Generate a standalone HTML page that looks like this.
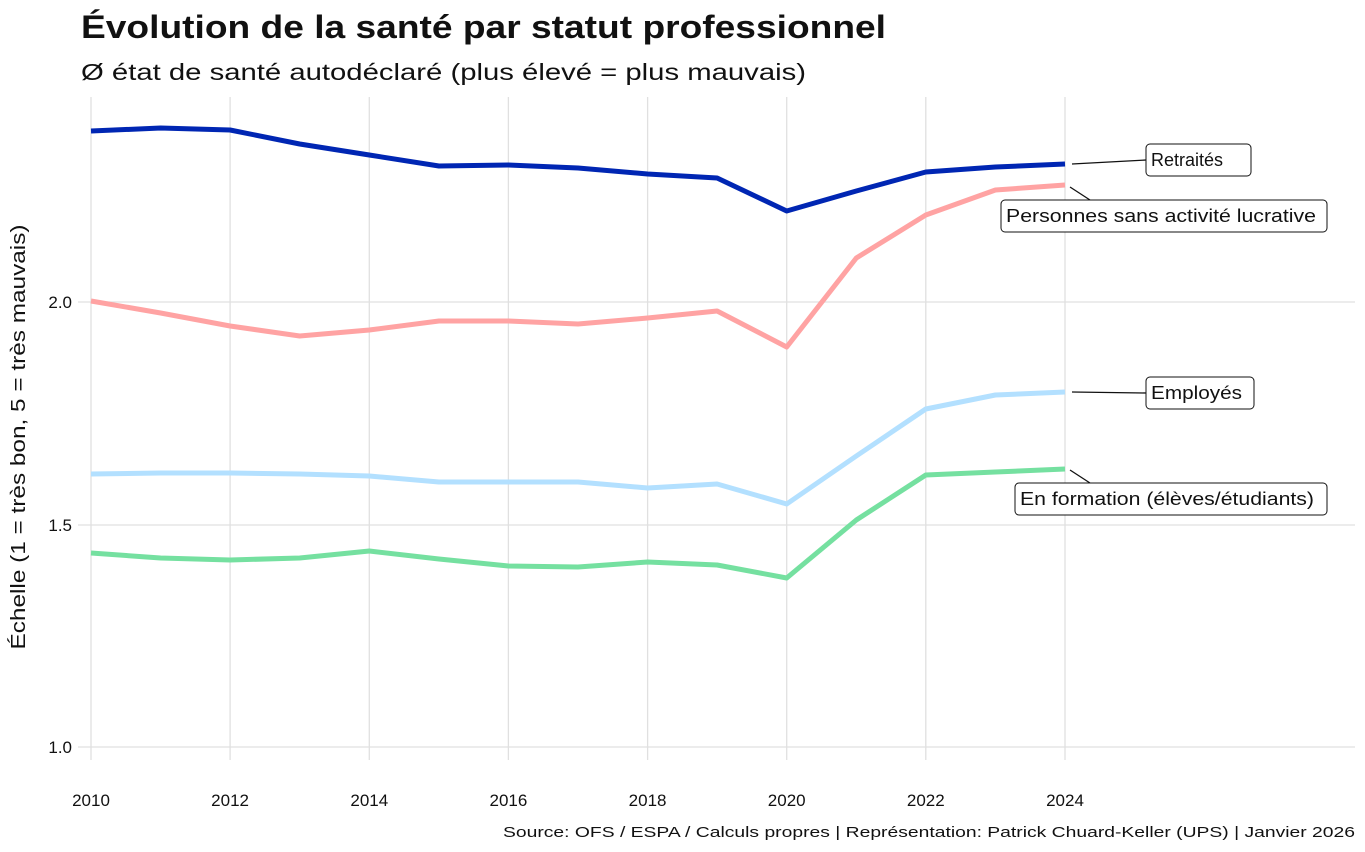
<!DOCTYPE html>
<html><head><meta charset="utf-8"><style>html,body{margin:0;padding:0;background:#fff}svg{display:block}text{font-family:"Liberation Sans",sans-serif;fill:#111}</style></head>
<body>
<svg width="1365" height="852" viewBox="0 0 1365 852" xmlns="http://www.w3.org/2000/svg">
<g stroke="#e0e0e0" stroke-width="1.3">
<line x1="78" y1="302" x2="1355" y2="302"/><line x1="78" y1="525" x2="1355" y2="525"/><line x1="78" y1="747" x2="1355" y2="747"/>
<line x1="91" y1="97" x2="91" y2="760"/><line x1="230.1" y1="97" x2="230.1" y2="760"/><line x1="369.3" y1="97" x2="369.3" y2="760"/><line x1="508.4" y1="97" x2="508.4" y2="760"/><line x1="647.6" y1="97" x2="647.6" y2="760"/><line x1="786.7" y1="97" x2="786.7" y2="760"/><line x1="925.8" y1="97" x2="925.8" y2="760"/><line x1="1065" y1="97" x2="1065" y2="760"/>
</g>
<text x="81" y="38" font-size="32" font-weight="bold" textLength="805" lengthAdjust="spacingAndGlyphs">Évolution de la santé par statut professionnel</text>
<text x="81" y="80" font-size="23" textLength="725" lengthAdjust="spacingAndGlyphs">Ø état de santé autodéclaré (plus élevé = plus mauvais)</text>
<text transform="translate(25,437) rotate(-90)" font-size="20" text-anchor="middle" textLength="425" lengthAdjust="spacingAndGlyphs">Échelle (1 = très bon, 5 = très mauvais)</text>
<g font-size="17" text-anchor="end"><text x="72" y="308">2.0</text><text x="72" y="531">1.5</text><text x="72" y="753">1.0</text></g>
<g font-size="17" text-anchor="middle"><text x="91" y="806">2010</text><text x="230.1" y="806">2012</text><text x="369.3" y="806">2014</text><text x="508.4" y="806">2016</text><text x="647.6" y="806">2018</text><text x="786.7" y="806">2020</text><text x="925.8" y="806">2022</text><text x="1065" y="806">2024</text></g>
<text x="1355" y="837" font-size="15" text-anchor="end" textLength="852" lengthAdjust="spacingAndGlyphs">Source: OFS / ESPA / Calculs propres | Représentation: Patrick Chuard-Keller (UPS) | Janvier 2026</text>
<g fill="none" stroke-width="5" stroke-linejoin="round">
<polyline stroke="#0026b3" points="91,131 160.6,128 230.1,130 299.7,144 369.3,155 438.9,166 508.4,165 578,168 647.6,174 717.1,178 786.7,211 856.3,191 925.8,172 995.4,167 1065,164"/>
<polyline stroke="#ffa3a3" points="91,301 160.6,313 230.1,326 299.7,336 369.3,330 438.9,321 508.4,321 578,324 647.6,318 717.1,311 786.7,347 856.3,258 925.8,215 995.4,190 1065,185"/>
<polyline stroke="#b3e0ff" points="91,474 160.6,473 230.1,473 299.7,474 369.3,476 438.9,482 508.4,482 578,482 647.6,488 717.1,484 786.7,504 856.3,456 925.8,409 995.4,395 1065,392"/>
<polyline stroke="#75e0a0" points="91,553 160.6,558 230.1,560 299.7,558 369.3,551 438.9,559 508.4,566 578,567 647.6,562 717.1,565 786.7,578 856.3,520 925.8,475 995.4,472 1065,469"/>
</g>
<g stroke="#111" stroke-width="1.3" fill="none">
<line x1="1072" y1="164" x2="1146" y2="160"/><line x1="1070" y1="187" x2="1090" y2="200"/><line x1="1072" y1="392" x2="1146" y2="393"/><line x1="1070" y1="470" x2="1090" y2="483"/>
</g>
<g stroke="#111" stroke-width="1" fill="#fff">
<rect x="1146" y="144" width="105" height="32" rx="4"/><rect x="1001" y="200" width="326" height="32" rx="4"/><rect x="1146" y="377" width="108" height="32" rx="4"/><rect x="1015" y="483" width="312" height="32" rx="4"/>
</g>
<g font-size="18">
<text x="1151" y="166" textLength="72" lengthAdjust="spacingAndGlyphs">Retraités</text><text x="1006" y="222" textLength="310" lengthAdjust="spacingAndGlyphs">Personnes sans activité lucrative</text><text x="1151" y="399" textLength="91" lengthAdjust="spacingAndGlyphs">Employés</text><text x="1020" y="505" textLength="294" lengthAdjust="spacingAndGlyphs">En formation (élèves/étudiants)</text>
</g>
</svg>
</body></html>
